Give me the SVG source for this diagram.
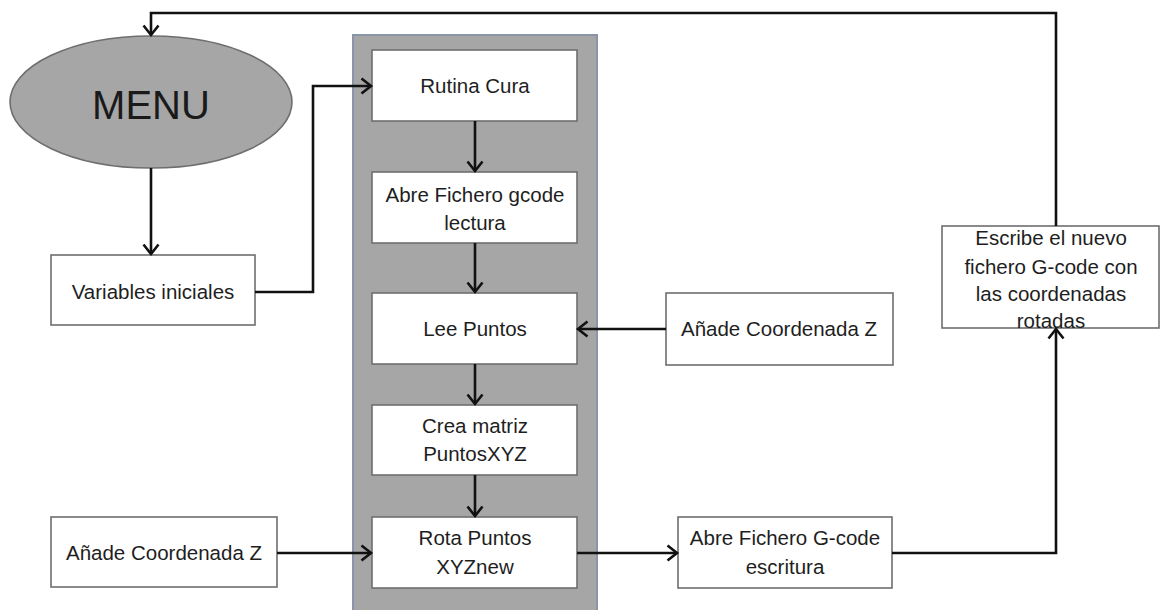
<svg xmlns="http://www.w3.org/2000/svg" width="1161" height="610" viewBox="0 0 1161 610">
<style>
.box{fill:#ffffff;stroke:#6e6e6e;stroke-width:1.6}
.t{font-family:"Liberation Sans",Arial,sans-serif;font-size:20.5px;fill:#1e1e1e;text-anchor:middle}
.c{fill:none;stroke:#111111;stroke-width:2.6}
</style>
<defs>
<marker id="ah" markerUnits="userSpaceOnUse" markerWidth="14" markerHeight="20" refX="11" refY="9" orient="auto">
<path d="M1.5,1.5 L11,9 L1.5,16.5" fill="none" stroke="#111111" stroke-width="2.6"/>
</marker>
</defs>
<rect width="1161" height="610" fill="#ffffff"/>
<g id="column">
<rect x="353" y="35" width="244" height="580" fill="#a6a6a6" stroke="#8a95aa" stroke-width="2"/>
</g>
<g id="menu">
<ellipse cx="151" cy="102" rx="141" ry="66" fill="#a6a6a6" stroke="#6e6e6e" stroke-width="1.6"/>
<text x="151" y="119" style="font-family:'Liberation Sans',Arial,sans-serif;font-size:40px;fill:#1a1a1a;text-anchor:middle">MENU</text>
</g>
<g id="variables">
<rect class="box" x="51" y="255" width="204" height="70"/>
<text class="t" x="153" y="299">Variables iniciales</text>
</g>
<g id="rutina">
<rect class="box" x="372" y="50" width="205" height="71"/>
<text class="t" x="475" y="93">Rutina Cura</text>
</g>
<g id="abre-lectura">
<rect class="box" x="372" y="172" width="205" height="71"/>
<text class="t" x="475" y="202">Abre Fichero gcode</text>
<text class="t" x="475" y="230">lectura</text>
</g>
<g id="lee">
<rect class="box" x="372" y="293" width="205" height="71"/>
<text class="t" x="475" y="336">Lee Puntos</text>
</g>
<g id="crea">
<rect class="box" x="372" y="405" width="205" height="70"/>
<text class="t" x="475" y="433">Crea matriz</text>
<text class="t" x="475" y="461">PuntosXYZ</text>
</g>
<g id="rota">
<rect class="box" x="372" y="517" width="205" height="71"/>
<text class="t" x="475" y="545">Rota Puntos</text>
<text class="t" x="475" y="574">XYZnew</text>
</g>
<g id="anade-left">
<rect class="box" x="51" y="517" width="226" height="70"/>
<text class="t" x="164" y="560">Añade Coordenada Z</text>
</g>
<g id="anade-right">
<rect class="box" x="666" y="293" width="227" height="72"/>
<text class="t" x="779" y="336">Añade Coordenada Z</text>
</g>
<g id="abre-escritura">
<rect class="box" x="678" y="517" width="214" height="71"/>
<text class="t" x="785" y="545">Abre Fichero G-code</text>
<text class="t" x="785" y="574">escritura</text>
</g>
<g id="escribe">
<rect class="box" x="942" y="226" width="217" height="102"/>
<text class="t" x="1051" y="245">Escribe el nuevo</text>
<text class="t" x="1051" y="274">fichero G-code con</text>
<text class="t" x="1051" y="301">las coordenadas</text>
<text class="t" x="1051" y="328">rotadas</text>
</g>
<g id="connectors">
<path class="c" d="M1056,226 V13 H151 V35" marker-end="url(#ah)"/>
<path class="c" d="M151,168 V254" marker-end="url(#ah)"/>
<path class="c" d="M255,292 H313 V86 H371" marker-end="url(#ah)"/>
<path class="c" d="M475,121 V171" marker-end="url(#ah)"/>
<path class="c" d="M475,243 V292" marker-end="url(#ah)"/>
<path class="c" d="M475,364 V404" marker-end="url(#ah)"/>
<path class="c" d="M475,475 V516" marker-end="url(#ah)"/>
<path class="c" d="M666,329 H578" marker-end="url(#ah)"/>
<path class="c" d="M277,553 H371" marker-end="url(#ah)"/>
<path class="c" d="M577,553 H677" marker-end="url(#ah)"/>
<path class="c" d="M892,553 H1056 V329" marker-end="url(#ah)"/>
</g>
</svg>
